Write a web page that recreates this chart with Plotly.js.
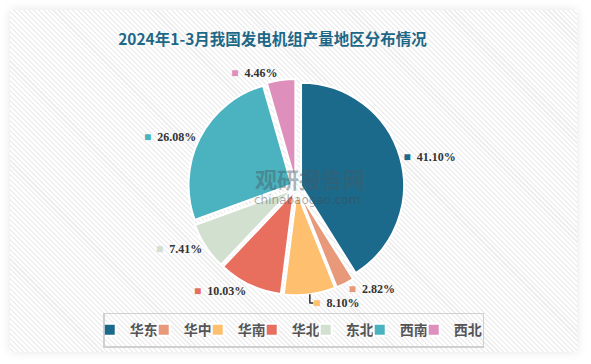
<!DOCTYPE html>
<html><head><meta charset="utf-8">
<script src="https://cdn.plot.ly/plotly-3.0.1.min.js"></script>
<style>
html,body{margin:0;padding:0;background:#fff;width:591px;height:364px;overflow:hidden;}
#panel{position:absolute;left:10px;top:10px;width:567px;height:342px;
background:repeating-linear-gradient(45deg,#ffffff 0px,#ffffff 2px,#efefef 2px,#efefef 3.5px);
box-shadow:0 0 10px rgba(0,0,0,0.10);}
#chart{position:absolute;left:0;top:0;width:591px;height:364px;}
</style></head>
<body><div id="panel"></div><div id="chart"></div>
<script>
const regions = ["华东","华中","华南","华北","东北","西南","西北"];
const shares = [41.10, 2.82, 8.10, 10.03, 7.41, 26.08, 4.46];
const colors = ["#1b6a8c","#e8997a","#fec06e","#e86e5e","#d2e0cf","#4bb2c0","#de8fbb"];
const titleText = "2024年1-3月我国发电机组产量地区分布情况";

const labelTexts = shares.map((v,i)=>"<span style='color:"+colors[i]+"'>■</span>  "+v.toFixed(2)+"%");

const trace = {
  type:"pie", labels:regions, values:shares, sort:false, direction:"clockwise", rotation:0,
  marker:{colors:colors, line:{color:"#ffffff", width:2}},
  pull:0.05,
  text:labelTexts, textinfo:"text", textposition:"outside",
  outsidetextfont:{family:"Liberation Serif", size:12, color:"#333333", weight:"bold"},
  hoverinfo:"label+percent",
  domain:{x:[0.318,0.684], y:[0.186,0.786]}
};
const layout = {
  width:591, height:364, margin:{l:0,r:0,t:0,b:0},
  paper_bgcolor:"rgba(0,0,0,0)", plot_bgcolor:"rgba(0,0,0,0)",
  title:{text:"<b>"+titleText+"</b>", x:0.2, xanchor:"left", xref:"paper", y:0.89, yanchor:"middle",
    font:{family:"Noto Sans CJK SC", size:15.5, color:"#1e6887"}},
  showlegend:true,
  legend:{orientation:"h", x:0.497, xanchor:"center", y:0.093, yanchor:"middle",
    font:{family:"Noto Sans CJK SC", size:14, color:"#555555", weight:"bold"},
    indentation:-15, itemwidth:30, entrywidth:24, entrywidthmode:"pixels",
    bordercolor:"#d0d0d0", borderwidth:1.5, bgcolor:"rgba(0,0,0,0)", traceorder:"normal"},
  annotations:[
    {text:"<b>观研报告网</b>", x:0.525, y:0.51, xref:"paper", yref:"paper", showarrow:false,
     font:{family:"Noto Sans CJK SC", size:22, color:"rgba(70,90,100,0.45)"}},
    {text:"chinabaogao.com", x:0.52, y:0.45, xref:"paper", yref:"paper", showarrow:false,
     font:{family:"DejaVu Sans", size:12, color:"rgba(70,70,70,0.45)"}}
  ]
};
Plotly.newPlot("chart",[trace],layout,{displayModeBar:false, staticPlot:true});
</script></body></html>
